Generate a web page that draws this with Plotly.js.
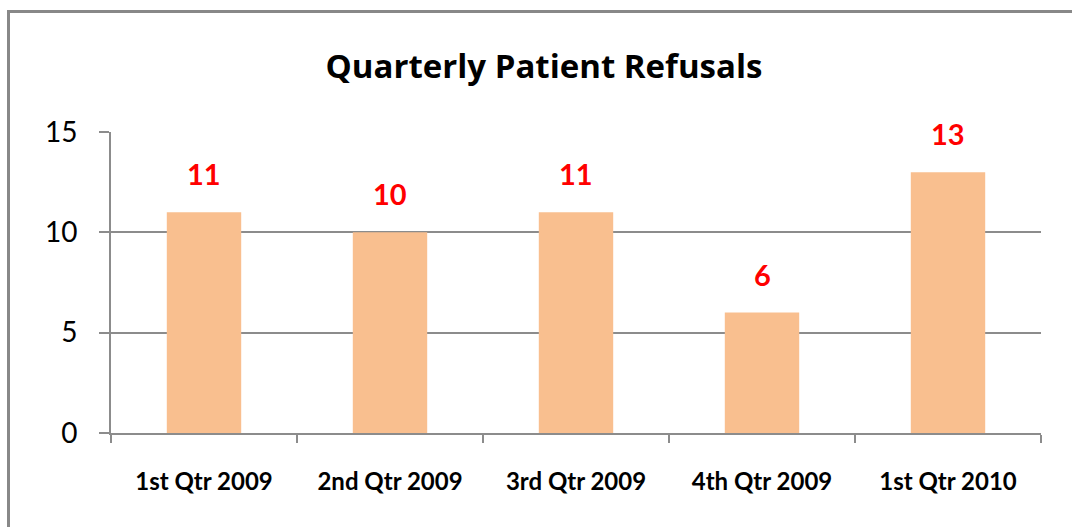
<!DOCTYPE html>
<html><head><meta charset="utf-8">
<script src="https://cdn.plot.ly/plotly-3.0.1.min.js"></script>
<style>
html,body{margin:0;padding:0;background:#fff;overflow:hidden;}
#frame{position:absolute;left:7px;top:10px;width:1200px;height:600px;border-left:3px solid #888;border-top:3px solid #888;}
#chart{position:absolute;left:0;top:0;width:1072px;height:527px;}
</style></head>
<body>
<div id="frame"></div>
<div id="chart"></div>
<script>
const categories = ["1st Qtr 2009","2nd Qtr 2009","3rd Qtr 2009","4th Qtr 2009","1st Qtr 2010"];
const refusals = [11,10,11,6,13];
const yTicks = [0,5,10,15];

const trace = {
  type:'bar', x:categories, y:refusals,
  marker:{color:'#F9BF8F'}, width:0.4, hoverinfo:'x+y'
};
const annotations = categories.map((c,i)=>({
  x:c, y:refusals[i], xref:'x', yref:'y', text:String(refusals[i]),
  showarrow:false, yanchor:'bottom', yshift:19,
  font:{family:'Lato, "Open Sans", sans-serif', size:29, color:'#FF0000', weight:'bold'}
}));
const layout = {
  width:1072, height:527,
  paper_bgcolor:'rgba(0,0,0,0)', plot_bgcolor:'rgba(0,0,0,0)',
  margin:{l:111,r:31,t:132,b:94},
  title:{text:'Quarterly Patient Refusals', xref:'paper', x:0.4656, xanchor:'center',
         yref:'container', y:1-66/527, yanchor:'middle',
         font:{family:'"Open Sans", Lato, sans-serif', size:33, color:'#000', weight:'bold'}},
  showlegend:false,
  bargap:0.6,
  xaxis:{type:'category', showline:true, linecolor:'#8C8C8C', linewidth:2,
         ticks:'outside', tickson:'boundaries', ticklen:8, tickcolor:'#8C8C8C', tickwidth:2,
         showgrid:false, zeroline:false, ticklabelstandoff:26,
         tickfont:{family:'Lato, "Open Sans", sans-serif', size:24, color:'#000', weight:'bold'}},
  yaxis:{range:[0,15], tickvals:yTicks, ticktext:yTicks.map(String),
         showline:true, linecolor:'#8C8C8C', linewidth:2,
         ticks:'outside', ticklen:10, tickcolor:'#8C8C8C', tickwidth:2,
         showgrid:true, gridcolor:'#8C8C8C', gridwidth:2, zeroline:false, ticklabelstandoff:16,
         tickfont:{family:'Lato, "Open Sans", sans-serif', size:28, color:'#000'}},
  annotations:annotations
};
Plotly.newPlot('chart',[trace],layout,{displayModeBar:false,staticPlot:true});
</script>
</body></html>
